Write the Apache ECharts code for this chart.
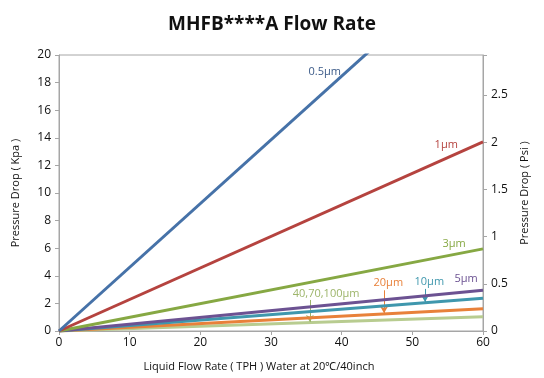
<!DOCTYPE html>
<html><head><meta charset="utf-8">
<script src="https://cdn.jsdelivr.net/npm/echarts@6/dist/echarts.min.js"></script>
<style>html,body{margin:0;padding:0;background:#fff}#c{width:544px;height:378px}</style>
</head><body><div id="c"></div>
<script>
// Data
const flowRate = [0, 60];
const seriesNames = ['0.5μm', '1μm', '3μm', '5μm', '10μm', '20μm', '40,70,100μm'];
const drop05 = [0, 27.7];
const drop1 = [0, 13.7];
const drop3 = [0, 5.95];
const drop5 = [0, 2.95];
const drop10 = [0, 2.38];
const drop20 = [0, 1.62];
const drop40 = [0, 1.04];
const seriesValues = [drop05, drop1, drop3, drop5, drop10, drop20, drop40];
const colors = ['#4672a8', '#b5433f', '#86a843', '#6c5292', '#3f97ad', '#e8813a', '#b8cc90'];
const labelColors = ['#3b5a88', '#b5433f', '#86a843', '#6c5292', '#3f97ad', '#e8813a', '#9db56a'];
// label anchor points (data coords)
const labelX = [37.6, 54.8, 55.9, 57.6, 52.4, 46.6, 37.8];
const labelY = [18.8, 13.5, 6.3, 3.77, 3.55, 3.48, 2.68];
// arrows: [x, yStart, yEnd] or null
const arrows = [null, null, null, null, [51.8, 3.05, 2.1], [46.0, 2.95, 1.28], [35.5, 2.25, 0.66]];
const kpaPerPsi = 6.84;

const font = '"Open Sans", "Noto Sans", sans-serif';
const series = seriesNames.map((name, i) => {
  const s = {
    name, type: 'line', yAxisIndex: 0, showSymbol: false, symbol: 'none',
    clip: true,
    lineStyle: { width: 3, color: colors[i] },
    itemStyle: { color: colors[i] },
    data: flowRate.map((x, j) => [x, seriesValues[i][j]]),
    markPoint: {
      symbol: 'circle', symbolSize: 0, animation: false,
      label: { show: true, position: 'inside', formatter: name, color: labelColors[i], fontSize: 11, fontFamily: font },
      data: [{ coord: [labelX[i], labelY[i]] }]
    },
    z: 10 - i
  };
  if (arrows[i]) {
    const a = arrows[i];
    s.markLine = {
      silent: true, animation: false,
      symbol: ['none', 'arrow'], symbolSize: [6, 7],
      label: { show: false },
      lineStyle: { color: labelColors[i], width: 1, type: 'solid' },
      data: [[{ coord: [a[0], a[1]] }, { coord: [a[0], a[2]] }]]
    };
  }
  return s;
});

const axisLine = { show: true, lineStyle: { color: '#a6a6a6', width: 1 } };
const chart = echarts.init(document.getElementById('c'));
chart.setOption({
  animation: false,
  title: { text: 'MHFB****A Flow Rate', left: 'center', top: 10,
    textStyle: { fontFamily: font, fontSize: 19, fontWeight: 'bold', color: '#111' } },
  grid: { left: 59, right: 61, top: 55, bottom: 47, show: true, borderColor: '#a6a6a6', borderWidth: 1 },
  xAxis: {
    type: 'value', min: 0, max: 60, interval: 10,
    name: 'Liquid Flow Rate ( TPH ) Water at 20℃/40inch', nameLocation: 'middle', nameGap: 30,
    nameTextStyle: { fontFamily: font, fontSize: 11, color: '#111', padding: [0, 24, 0, 0] },
    axisLine, axisTick: { show: true, length: 4, lineStyle: { color: '#a6a6a6' } },
    splitLine: { show: false },
    axisLabel: { fontFamily: font, fontSize: 12, color: '#111', margin: 6 }
  },
  yAxis: [{
    type: 'value', min: 0, max: 20, interval: 2, position: 'left',
    name: 'Pressure Drop ( Kpa )', nameLocation: 'middle', nameGap: 38,
    nameTextStyle: { fontFamily: font, fontSize: 11, color: '#111' },
    axisLine, axisTick: { show: true, length: 4, lineStyle: { color: '#a6a6a6' } },
    splitLine: { show: false },
    axisLabel: { fontFamily: font, fontSize: 12, color: '#111', margin: 8 }
  }, {
    type: 'value', min: 0, max: 20 / kpaPerPsi, interval: 0.5, position: 'right',
    name: 'Pressure Drop ( Psi )', nameLocation: 'middle', nameGap: 36,
    nameTextStyle: { fontFamily: font, fontSize: 11, color: '#111' },
    axisLine, axisTick: { show: true, length: 4, lineStyle: { color: '#a6a6a6' } },
    splitLine: { show: false },
    axisLabel: { fontFamily: font, fontSize: 12, color: '#111', margin: 8,
      formatter: v => (v > 2.6 ? '' : String(v)) }
  }],
  series
});
</script>
</body></html>
